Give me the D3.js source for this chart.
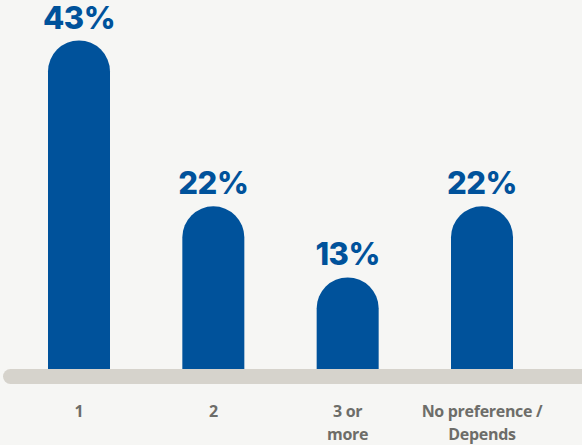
<!DOCTYPE html>
<html>
<head>
<meta charset="utf-8">
<script src="https://cdn.jsdelivr.net/npm/d3@7"></script>
<style>
html, body { margin: 0; padding: 0; background: #f6f6f4; }
svg { display: block; }
</style>
</head>
<body>
<svg id="chart" width="582" height="445"></svg>
<script>
// chart values
const categories = ["1", "2", "3 or more", "No preference / Depends"];
const catLines = [["1"], ["2"], ["3 or", "more"], ["No preference /", "Depends"]];
const values = [43, 22, 13, 22];
const valueLabels = ["43%", "22%", "13%", "22%"];

var svg = d3.select("#chart");
var width = +svg.attr("width");
var height = +svg.attr("height");

svg.append("rect")
    .attr("width", width)
    .attr("height", height)
    .style("fill", "#f6f6f4");

const barWidth = 62;
const baseY = 380;

var x = d3.scalePoint()
    .domain(categories)
    .range([79, 482]);

var y = d3.scaleLinear()
    .domain([0, 43])
    .range([baseY, 40.5]);

// bar with round top
function barPath(cx, top) {
    const r = barWidth / 2;
    const x0 = cx - r, x1 = cx + r;
    return "M" + x0 + "," + baseY +
        "L" + x0 + "," + (top + r) +
        "A" + r + "," + r + " 0 0 1 " + x1 + "," + (top + r) +
        "L" + x1 + "," + baseY + "Z";
}

svg.selectAll(".bar")
    .data(values)
    .enter()
    .append("path")
    .attr("class", "bar")
    .attr("d", (d, i) => barPath(x(categories[i]), y(d)))
    .style("fill", "#00529b");

// grey baseline track
svg.append("rect")
    .attr("x", 3)
    .attr("y", 369)
    .attr("width", width + 20)
    .attr("height", 15)
    .attr("rx", 7.5)
    .style("fill", "#d6d3cc");

svg.selectAll(".val")
    .data(values)
    .enter()
    .append("text")
    .attr("class", "val")
    .attr("x", (d, i) => x(categories[i]))
    .attr("y", d => y(d) - 12)
    .attr("text-anchor", "middle")
    .style("font-family", "Inter, 'Open Sans', sans-serif")
    .style("font-weight", 800)
    .style("font-size", "31px")
    .style("letter-spacing", "-0.5px")
    .style("fill", "#00529b")
    .text((d, i) => valueLabels[i]);

var cat = svg.selectAll(".cat")
    .data(categories)
    .enter()
    .append("text")
    .attr("class", "cat")
    .attr("x", d => x(d))
    .attr("y", 417)
    .attr("text-anchor", "middle")
    .style("font-family", "'Open Sans', sans-serif")
    .style("font-weight", 700)
    .style("font-size", "16px")
    .style("letter-spacing", "-0.3px")
    .style("fill", "#6d6d69");

cat.selectAll("tspan")
    .data((d, i) => catLines[i])
    .enter()
    .append("tspan")
    .attr("x", function() { return d3.select(this.parentNode).attr("x"); })
    .attr("dy", (d, j) => j === 0 ? 0 : 23)
    .text(d => d);
</script>
</body>
</html>
